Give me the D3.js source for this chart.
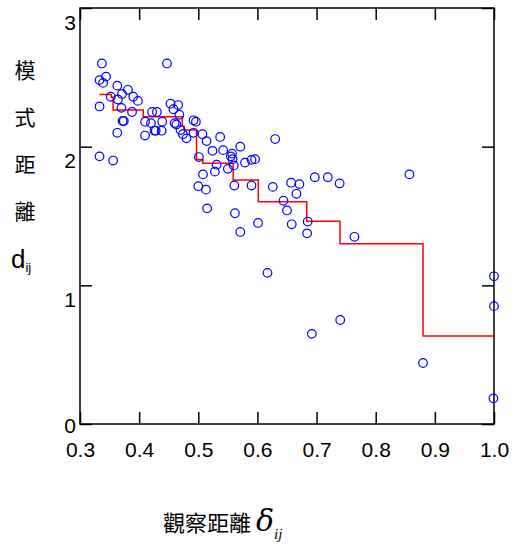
<!DOCTYPE html>
<html>
<head>
<meta charset="utf-8">
<script src="https://cdn.jsdelivr.net/npm/d3@7"></script>
<style>
  body { margin: 0; background: #fff; }
  svg { display: block; }
</style>
</head>
<body>
<svg id="chart" width="523" height="547"></svg>
<script>
// observed distance (x) and model distance (y) for every pair
const obsDist = [
  0.337, 0.447, 0.333, 0.344, 0.339, 0.363, 0.381, 0.371, 0.352, 0.390,
  0.364, 0.398, 0.333, 0.370, 0.388, 0.372, 0.374, 0.363, 0.333, 0.356,
  0.422, 0.430, 0.410, 0.420, 0.439, 0.410, 0.426, 0.428, 0.438, 0.453,
  0.458, 0.466, 0.468, 0.460, 0.463, 0.470, 0.474, 0.480, 0.492, 0.496,
  0.492, 0.507, 0.514, 0.537, 0.630, 0.524, 0.542, 0.557, 0.555, 0.558,
  0.571, 0.501, 0.531, 0.550, 0.560, 0.579, 0.590, 0.596, 0.508, 0.528,
  0.500, 0.513, 0.561, 0.590, 0.626, 0.657, 0.671, 0.666, 0.644, 0.650,
  0.515, 0.562, 0.601, 0.571, 0.658, 0.685, 0.684, 0.764, 0.697, 0.719,
  0.739, 0.857, 0.617, 0.740, 0.692, 0.880, 1.000, 1.000, 0.999
];
const modelDist = [
  2.60, 2.60, 2.48, 2.505, 2.46, 2.44, 2.41, 2.38, 2.36, 2.36,
  2.34, 2.33, 2.29, 2.28, 2.25, 2.185, 2.185, 2.10, 1.93, 1.90,
  2.25, 2.25, 2.18, 2.17, 2.18, 2.08, 2.115, 2.115, 2.115, 2.31,
  2.27, 2.30, 2.23, 2.17, 2.16, 2.12, 2.09, 2.06, 2.19, 2.18,
  2.10, 2.09, 2.04, 2.07, 2.055, 1.97, 1.975, 1.95, 1.93, 1.91,
  2.00, 1.925, 1.87, 1.84, 1.865, 1.885, 1.905, 1.91, 1.80, 1.82,
  1.715, 1.69, 1.72, 1.72, 1.71, 1.74, 1.73, 1.66, 1.61, 1.54,
  1.555, 1.52, 1.45, 1.385, 1.44, 1.46, 1.375, 1.35, 1.78, 1.78,
  1.735, 1.80, 1.09, 0.75, 0.65, 0.44, 1.065, 0.85, 0.185
];

// monotone fit (step line)
const stepX = [0.333, 0.353, 0.356, 0.407, 0.473, 0.476, 0.497, 0.5075, 0.559, 0.6015, 0.6833, 0.7396, 0.880, 1.0];
const stepY = [2.377, 2.356, 2.264, 2.216, 2.148, 2.120, 1.908, 1.880, 1.759, 1.603, 1.462, 1.300, 0.634, 0.634];

const xTicks = [0.3, 0.4, 0.5, 0.6, 0.7, 0.8, 0.9, 1.0];
const yTicks = [0, 1, 2, 3];
const yTitleChars = ["模", "式", "距", "離"];

const svg = d3.select("#chart");
const plotLeft = 80, plotRight = 494, plotTop = 8, plotBottom = 424;

const x = d3.scaleLinear().domain([0.3, 1.0]).range([plotLeft, plotRight]);
const y = d3.scaleLinear().domain([0, 3]).range([plotBottom, plotTop]);

const numFont = "'Liberation Sans', Arial, sans-serif";

// axes with inward ticks
const xAxis = svg.append("g")
    .attr("transform", `translate(0,${plotBottom})`)
    .call(d3.axisBottom(x).tickValues(xTicks).tickSize(-12).tickPadding(18)
        .tickFormat(d3.format(".1f")));
xAxis.select(".domain").remove();
xAxis.selectAll("line").attr("stroke-width", 1.5);
xAxis.selectAll("text").style("font-family", numFont).style("font-size", "21px").attr("fill", "#000");

const xTop = svg.append("g")
    .attr("transform", `translate(0,${plotTop})`)
    .call(d3.axisTop(x).tickValues(xTicks).tickSize(-12).tickFormat(""));
xTop.select(".domain").remove();
xTop.selectAll("line").attr("stroke-width", 1.5);

const yAxis = svg.append("g")
    .attr("transform", `translate(${plotLeft},0)`)
    .call(d3.axisLeft(y).tickValues(yTicks).tickSize(-12).tickPadding(4)
        .tickFormat(d3.format("d")));
yAxis.select(".domain").remove();
yAxis.selectAll("line").attr("stroke-width", 1.5);
yAxis.selectAll("text")
    .style("font-family", numFont).style("font-size", "21px").attr("fill", "#000")
    .attr("dy", null)
    .attr("y", (d) => (d === 0 ? 8 : 21));

const yRight = svg.append("g")
    .attr("transform", `translate(${plotRight},0)`)
    .call(d3.axisRight(y).tickValues(yTicks).tickSize(-12).tickFormat(""));
yRight.select(".domain").remove();
yRight.selectAll("line").attr("stroke-width", 1.5);

// frame
svg.append("rect")
    .attr("x", plotLeft).attr("y", plotTop)
    .attr("width", plotRight - plotLeft).attr("height", plotBottom - plotTop)
    .attr("fill", "none").attr("stroke", "#000").attr("stroke-width", 1.5);

// step line
const stepLine = d3.line()
    .x((d, i) => x(stepX[i]))
    .y((d, i) => y(stepY[i]))
    .curve(d3.curveStepAfter);
svg.append("path")
    .datum(stepX)
    .attr("d", stepLine)
    .attr("fill", "none")
    .attr("stroke", "#ff0000")
    .attr("stroke-width", 1.5);

// points
svg.append("g")
    .selectAll("circle")
    .data(obsDist)
    .enter()
    .append("circle")
    .attr("cx", (d) => x(d))
    .attr("cy", (d, i) => y(modelDist[i]))
    .attr("r", 4.3)
    .attr("fill", "none")
    .attr("stroke", "#0000ff")
    .attr("stroke-width", 1.2);

// y title, vertical characters
const cjkFont = "'Noto Sans CJK TC', 'Noto Sans CJK SC', sans-serif";
svg.append("g")
    .selectAll("text")
    .data(yTitleChars)
    .enter()
    .append("text")
    .attr("x", 25)
    .attr("y", (d, i) => 78 + i * 47)
    .attr("text-anchor", "middle")
    .style("font-family", cjkFont)
    .style("font-size", "21px")
    .text((d) => d);

const dLabel = svg.append("text")
    .attr("x", 11).attr("y", 268)
    .style("font-family", numFont)
    .style("font-size", "26px");
dLabel.append("tspan").text("d");
dLabel.append("tspan").attr("dy", 4).style("font-size", "13px").text("ij");

// x title
const xTitle = svg.append("text")
    .attr("x", 163).attr("y", 531)
    .style("font-family", cjkFont)
    .style("font-size", "22px");
xTitle.append("tspan").text("觀察距離 ");
xTitle.append("tspan")
    .style("font-family", "'DejaVu Serif', serif")
    .style("font-style", "italic")
    .style("font-size", "30px")
    .text("δ");
xTitle.append("tspan")
    .attr("dy", 8)
    .style("font-family", "'Liberation Serif', serif")
    .style("font-style", "italic")
    .style("font-size", "15px")
    .text("ij");
</script>
</body>
</html>
